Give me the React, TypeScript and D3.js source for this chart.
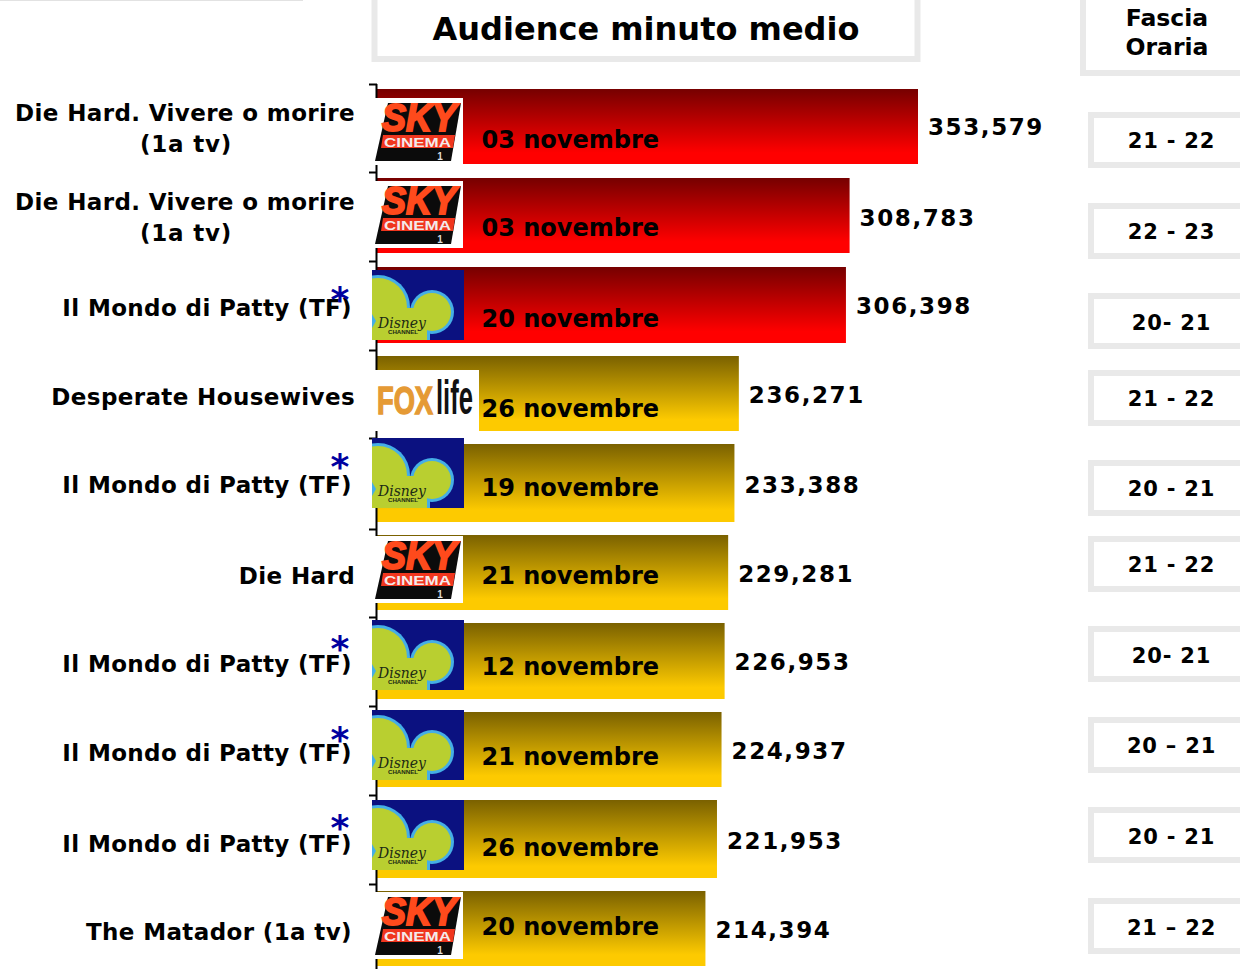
import React from "react";
import * as d3 from "d3";

// ---------- data ----------
const programmes = [
  ["Die Hard. Vivere o morire", "(1a tv)"],
  ["Die Hard. Vivere o morire", "(1a tv)"],
  ["Il Mondo di Patty (TF)"],
  ["Desperate Housewives"],
  ["Il Mondo di Patty (TF)"],
  ["Die Hard"],
  ["Il Mondo di Patty (TF)"],
  ["Il Mondo di Patty (TF)"],
  ["Il Mondo di Patty (TF)"],
  ["The Matador (1a tv)"],
];
const channels = ["sky", "sky", "disney", "fox", "disney", "sky", "disney", "disney", "disney", "sky"];
const dates = ["03 novembre", "03 novembre", "20 novembre", "26 novembre", "19 novembre", "21 novembre", "12 novembre", "21 novembre", "26 novembre", "20 novembre"];
const audience = [353579, 308783, 306398, 236271, 233388, 229281, 226953, 224937, 221953, 214394];
const topGroup = [true, true, true, false, false, false, false, false, false, false];
const slots = ["21 - 22", "22 - 23", "20- 21", "21 - 22", "20 - 21", "21 - 22", "20- 21", "20 – 21", "20 - 21", "21 – 22"];
const starred = [false, false, true, false, true, false, true, true, true, false];

// ---------- layout ----------
const barTop = [89, 178, 267, 356, 444, 535, 623, 712, 800, 891];
const barBottom = [164, 253, 343, 431, 522, 610, 699, 787, 878, 966];
const tickY = [84, 172, 261, 350, 438, 529, 617, 706, 795, 884];
const dateBase = [148, 236, 327, 417, 496, 584, 675, 765, 856, 935];
const valueBase = [135, 226, 314, 403, 493, 582, 670, 759, 849, 938];
const labelBase = [121, 210, 316, 405, 493, 584, 672, 761, 852, 940];
const labelRight = [355, 355, 352, 355, 352, 355, 352, 352, 352, 352];
const logoTop = [98, 181, 270, 370, 438, 536, 620, 710, 800, 892];
const starY = [0, 0, 312, 0, 479, 0, 661, 752, 840, 0];
const cellTop = [112, 203, 293, 370, 460, 536, 626, 717, 807, 898];
const cellBase = [148, 239, 330, 406, 496, 572, 663, 753, 844, 935];

const FONT = "'DejaVu Sans', Verdana, sans-serif";
const ARIAL = "'Liberation Sans', Arial, sans-serif";
const x = d3.scaleLinear().domain([0, 353579]).range([378, 918]);
const fmt = d3.format(",");

function SkyLogo({ y }: { y: number }) {
  return (
    <g transform={`translate(375,${y})`}>
      <rect x={0} y={0} width={88} height={67} fill="#fff" />
      <polygon points="13,5 86,5 76,63 0,63" fill="#0b0b0b" />
      <text x={7} y={33} fontFamily={ARIAL} fontWeight={700} fontStyle="italic" fontSize={39} fill="#ff4a1c" stroke="#ff4a1c" strokeWidth={2} textLength={74} lengthAdjust="spacingAndGlyphs">SKY</text>
      <polygon points="8,37 80,37 78,50 6,50" fill="#f0361e" />
      <text x={9} y={48.5} fontFamily={ARIAL} fontWeight={700} fontSize={13.5} fill="#f4eaea" textLength={67} lengthAdjust="spacingAndGlyphs">CINEMA</text>
      <text x={65} y={62} textAnchor="middle" fontFamily={ARIAL} fontWeight={700} fontSize={10} fill="#ddd">1</text>
    </g>
  );
}

function DisneyLogo({ y, id }: { y: number; id: number }) {
  const green = "#b9cf30";
  const cyan = "#45aee6";
  return (
    <g transform={`translate(372,${y})`}>
      <clipPath id={`dc${id}`}><rect width={92} height={70} /></clipPath>
      <rect width={92} height={70} fill="#0b1180" />
      <g clipPath={`url(#dc${id})`}>
        <circle cx={6} cy={37} r={32} fill={cyan} />
        <circle cx={60} cy={42} r={22} fill={cyan} />
        <rect x={0} y={42} width={58} height={30} fill={cyan} />
        <circle cx={6} cy={37} r={29} fill={green} />
        <circle cx={60} cy={42} r={19} fill={green} />
        <rect x={0} y={38} width={55} height={34} fill={green} />
        <polygon points="0,44 4,51 0,58" fill={cyan} />
      </g>
      <text x={6} y={58} fontFamily="'DejaVu Serif', serif" fontWeight={400} fontStyle="italic" fontSize={14} fill="#1c2a14" textLength={48} lengthAdjust="spacingAndGlyphs">Disney</text>
      <text x={16} y={64} fontFamily={ARIAL} fontWeight={700} fontSize={5} fill="#1c2a14" textLength={30} lengthAdjust="spacingAndGlyphs">CHANNEL</text>
    </g>
  );
}

function FoxLogo({ y }: { y: number }) {
  return (
    <g transform={`translate(372,${y})`}>
      <rect width={107} height={61} fill="#fff" />
      <text x={5} y={44} fontFamily={ARIAL} fontWeight={700} fontSize={39} fill="#e59a35" stroke="#e59a35" strokeWidth={1.5} textLength={56} lengthAdjust="spacingAndGlyphs">FOX</text>
      <text x={64} y={44} fontFamily={ARIAL} fontWeight={700} fontSize={49} fill="#111" textLength={37} lengthAdjust="spacingAndGlyphs">life</text>
    </g>
  );
}

function Gradient({ id, dark, light }: { id: string; dark: string; light: string }) {
  return (
    <linearGradient id={id} x1="0" y1="0" x2="0" y2="1">
      <stop offset="0" stopColor={dark} />
      <stop offset="0.85" stopColor={light} />
      <stop offset="1" stopColor={light} />
    </linearGradient>
  );
}

export default function App() {
  return (
    <svg width={1240} height={969} viewBox="0 0 1240 969" style={{ position: "absolute", left: 0, top: 0, background: "#fff" }} fontFamily={FONT} fontWeight={700}>
      <defs>
        <Gradient id="redBar" dark="#760000" light="#ff0000" />
        <Gradient id="goldBar" dark="#7a6100" light="#fdca00" />
      </defs>

      <rect x={0} y={0} width={303} height={1} fill="#e2e2e2" />

      {/* header frames */}
      <path d="M374.5,0 V59 H917.5 V0" fill="none" stroke="#e9e9e9" strokeWidth={6} />
      <text x={646} y={40} textAnchor="middle" fontSize={32} fill="#000">Audience minuto medio</text>
      <path d="M1083,0 V73 H1240" fill="none" stroke="#e9e9e9" strokeWidth={6} />
      <text x={1167} y={26} textAnchor="middle" fontSize={23.5} fill="#000">Fascia</text>
      <text x={1167} y={55} textAnchor="middle" fontSize={23.5} fill="#000">Oraria</text>

      {/* bars */}
      {audience.map((v, i) => (
        <rect key={i} x={377} y={barTop[i]} width={x(v) - 377} height={barBottom[i] - barTop[i]} fill={topGroup[i] ? "url(#redBar)" : "url(#goldBar)"} />
      ))}

      {/* axis */}
      <line x1={376.5} x2={376.5} y1={84} y2={969} stroke="#000" strokeWidth={2} />
      {tickY.map((t, i) => (
        <line key={i} x1={369} x2={377} y1={t + 0.5} y2={t + 0.5} stroke="#000" strokeWidth={2} />
      ))}

      {/* logos */}
      {channels.map((c, i) =>
        c === "sky" ? <SkyLogo key={i} y={logoTop[i]} /> : c === "disney" ? <DisneyLogo key={i} id={i} y={logoTop[i]} /> : <FoxLogo key={i} y={logoTop[i]} />
      )}

      {/* programme labels */}
      {programmes.map((lines, i) =>
        lines.length === 2 ? (
          <g key={i} fontSize={23} letterSpacing={0.38} fill="#000">
            <text x={labelRight[i]} y={labelBase[i]} textAnchor="end">{lines[0]}</text>
            <text x={186} y={labelBase[i] + 31} textAnchor="middle" letterSpacing={0.8}>{lines[1]}</text>
          </g>
        ) : (
          <text key={i} x={labelRight[i]} y={labelBase[i]} textAnchor="end" fontSize={23} letterSpacing={0.38} fill="#000">{lines[0]}</text>
        )
      )}
      {starred.map((s, i) =>
        s ? <text key={i} x={340} y={starY[i]} textAnchor="middle" fontSize={36} fill="#0000a0">*</text> : null
      )}

      {/* dates and values */}
      {dates.map((d, i) => (
        <text key={i} x={659} y={dateBase[i]} textAnchor="end" fontSize={24} fill="#000">{d}</text>
      ))}
      {audience.map((v, i) => (
        <text key={i} x={x(v) + 10} y={valueBase[i]} fontSize={23} letterSpacing={1.6} fill="#000">{fmt(v)}</text>
      ))}

      {/* time slot cells */}
      {slots.map((s, i) => (
        <g key={i}>
          <path d={`M1250,${cellTop[i] + 3} H1091 V${cellTop[i] + 53} H1250`} fill="#fff" stroke="#e9e9e9" strokeWidth={6} />
          <text x={1171.5} y={cellBase[i]} textAnchor="middle" fontSize={21} letterSpacing={0.8} fill="#000">{s}</text>
        </g>
      ))}
    </svg>
  );
}
